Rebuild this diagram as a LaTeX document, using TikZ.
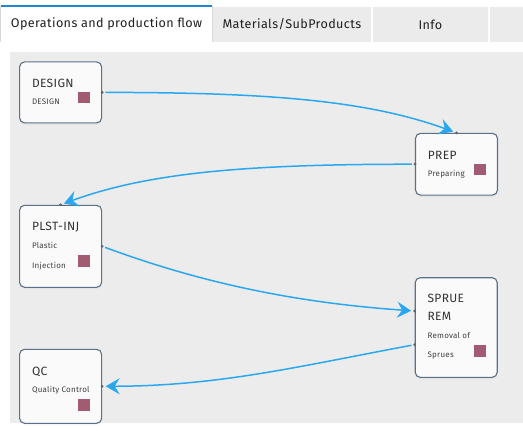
\documentclass[tikz,border=0pt]{standalone}
\usepackage{fontspec}
\setmainfont{Fira Sans}[LetterSpace=3]
\usetikzlibrary{arrows.meta,positioning,shadows}
\definecolor{flowblue}{RGB}{41,168,240}
\definecolor{tabblue}{RGB}{30,136,214}
\definecolor{tabgray}{RGB}{235,235,235}
\definecolor{canvasgray}{RGB}{236,236,236}
\definecolor{boxedge}{RGB}{92,112,136}
\definecolor{opcolor}{RGB}{161,92,114}
\definecolor{portgray}{RGB}{90,100,112}
\definecolor{txtdark}{RGB}{51,51,51}

\begin{document}
\begin{tikzpicture}[x=1pt, y=-1pt, every node/.style={text=txtdark}]
\tikzset{tab/.style={fill=tabgray, minimum height=35pt, inner sep=0pt, font=\fontsize{12.6}{14}\selectfont, text=black!88}}
\tikzset{opbox/.style={draw=boxedge, line width=1.1pt, rounded corners=5pt, fill=black!2, minimum width=82pt, inner sep=0pt, drop shadow={opacity=0.07, shadow xshift=0pt, shadow yshift=-2pt}}}
\tikzset{optitle/.style={anchor=base west, inner sep=0pt, font=\fontsize{12}{14}\selectfont}}
\tikzset{opsub/.style={anchor=base west, inner sep=0pt, font=\fontsize{8}{10}\selectfont, text=black!75}}
\tikzset{opsquare/.style={fill=opcolor, minimum size=11.7pt, inner sep=0pt}}
\tikzset{port/.style={circle, fill=portgray, minimum size=3pt, inner sep=0pt}}
\tikzset{flow/.style={flowblue, line width=1.5pt, -{Stealth[length=14pt, width=16pt, inset=5pt]}, shorten <=1.5pt, shorten >=1.8pt}}
\useasboundingbox (0,0) rectangle (523,431);

% Tabs
\node[tab, fill=white, minimum width=211pt, minimum height=36pt] (tab-ops) at (106.5,24) {Operations and production flow};
\draw[black!15, line width=0.6pt] (tab-ops.north west) -- (tab-ops.south west);
\draw[black!15, line width=0.6pt] (tab-ops.north east) -- (tab-ops.south east);
\draw[tabblue, line width=1.6pt] (tab-ops.north west) -- (tab-ops.north east);
\node[tab, minimum width=157.7pt] (tab-mat) at (291.85,24.5) {Materials/SubProducts};
\node[tab, minimum width=115.3pt] (tab-info) at (430.35,24.5) {Info};
\node[tab, minimum width=33pt] (tab-more) at (506.5,24.5) {};

% Canvas
\fill[canvasgray] (10,52) rectangle (523,422.5);

% Operations
\node[opbox, minimum height=61pt] (design) at (60.6,92.4) {};
\node[opbox, minimum height=61.7pt] (prep) at (456.5,164.2) {};
\node[opbox, minimum height=82pt] (plstinj) at (60.6,246.3) {};
\node[opbox, minimum height=99.6pt] (sprue) at (456.2,327.5) {};
\node[opbox, minimum height=74pt] (qc) at (60.6,386.3) {};

\node[optitle] (design-t) at (31.8,87.3) {DESIGN};
\node[opsub] (design-s) at (31.8,104.3) {DESIGN};
\node[opsquare] (design-sq) at (84,97.5) {};

\node[optitle] (prep-t) at (427.7,159) {PREP};
\node[opsub] (prep-s) at (427.7,176.5) {Preparing};
\node[opsquare] (prep-sq) at (480,169.5) {};

\node[optitle] (plstinj-t) at (31.8,230.7) {PLST-INJ};
\node[opsub] (plstinj-s1) at (31.8,248.7) {Plastic};
\node[opsub] (plstinj-s2) at (31.8,268.7) {Injection};
\node[opsquare] (plstinj-sq) at (84,261.3) {};

\node[optitle] (sprue-t1) at (427.4,302.3) {SPRUE};
\node[optitle] (sprue-t2) at (427.4,320.7) {REM};
\node[opsub] (sprue-s1) at (427.4,338.3) {Removal of};
\node[opsub] (sprue-s2) at (427.4,357.7) {Sprues};
\node[opsquare] (sprue-sq) at (479.7,351.3) {};

\node[optitle] (qc-t) at (31.8,375) {QC};
\node[opsub] (qc-s) at (31.8,392.3) {Quality Control};
\node[opsquare] (qc-sq) at (84,405.3) {};

% Ports
\node[port] (design-out) at (design.east) {};
\node[port] (prep-in) at (prep.north) {};
\node[port] (prep-out) at (prep.west) {};
\node[port] (plstinj-in) at (plstinj.north) {};
\node[port] (plstinj-out) at (plstinj.east) {};
\node[port] (sprue-in) at ([yshift=16.5pt]sprue.west) {};
\node[port] (sprue-out) at ([yshift=-17.2pt]sprue.west) {};
\node[port] (qc-in) at (qc.east) {};

% Flow
\draw[flow] (design-out) .. controls (266,92.5) and (366,100) .. (prep-in);
\draw[flow] (prep-out) .. controls (250,164.3) and (150,172) .. (plstinj-in);
\draw[flow] (plstinj-out) .. controls (206,284.7) and (301,303) .. (sprue-in);
\draw[flow] (sprue-out) .. controls (300,366) and (220,386) .. (qc-in);
\end{tikzpicture}
\end{document}
